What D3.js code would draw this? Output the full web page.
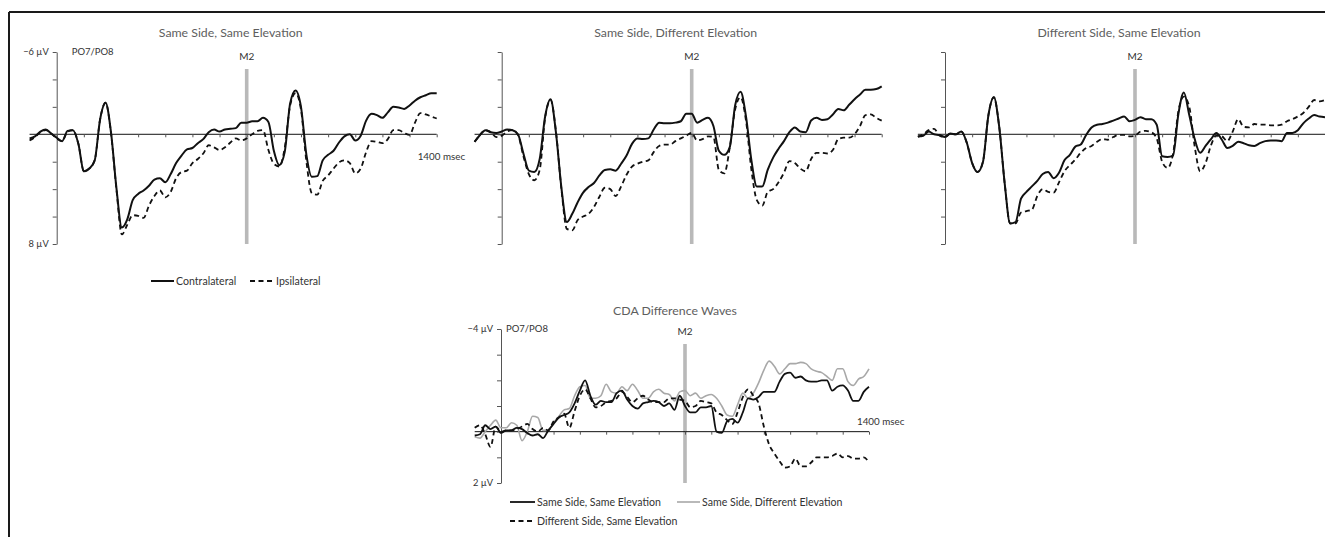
<!DOCTYPE html>
<html>
<head>
<meta charset="utf-8">
<script src="https://cdn.jsdelivr.net/npm/d3@7"></script>
<style>
  html, body { margin: 0; padding: 0; background: #fff; }
  svg { display: block; }
  text { font-family: Lato, "Open Sans", sans-serif; }
</style>
</head>
<body>
<script>
// ---------------- DATA ----------------
const times = [-100,-80,-60,-40,-20,0,20,40,60,80,100,120,140,160,180,200,220,240,260,280,
  300,320,340,360,380,400,420,440,460,480,500,520,540,560,580,600,620,640,660,680,
  700,720,740,760,780,800,820,840,860,880,900,920,940,960,980,1000,1020,1040,1060,1080,
  1100,1120,1140,1160,1180,1200,1220,1240,1260,1280,1300,1320,1340,1360,1380,1400];

const panelTitles = ["Same Side, Same Elevation", "Same Side, Different Elevation", "Different Side, Same Elevation"];
const waveLegend = ["Contralateral", "Ipsilateral"];
const cdaTitle = "CDA Difference Waves";
const cdaLegend = ["Same Side, Same Elevation", "Same Side, Different Elevation", "Different Side, Same Elevation"];
const electrodeLabel = "PO7/PO8";
const markerLabel = "M2";
const markerTime = 700;
const endLabel = "1400 msec";

const topYTicks = [-6,-4,-2,0,2,4,6,8];
const topYLabels = ["\u22126 \u00b5V", "8 \u00b5V"];
const cdaYTicks = [-4,-3,-2,-1,0,1,2];
const cdaYLabels = ["\u22124 \u00b5V", "2 \u00b5V"];
const xTicks = [0,100,200,300,400,500,600,700,800,900,1000,1100,1200,1300,1400];

// Panel 1: Same Side, Same Elevation (µV, negative up)
const ssseContra = [0.3,0.15,-0.2,-0.35,-0.05, 0.25,0.5,-0.25,-0.3,0.7,
  2.7,2.5,1.9,-1.1,-2.3, -0.15,3.9,6.8,6.2,4.8,
  4.35,4.1,3.75,3.3,3.2, 3.5,2.9,2.1,1.55,1.1,
  1.0,0.65,0.35,-0.15,-0.35, -0.2,-0.35,-0.4,-0.45,-0.85,
  -0.85,-0.95,-0.95,-1.2,-0.9, 1.2,2.25,1.3,-2.25,-3.2,
  -2.0,1.5,3.1,3.05,1.9, 1.5,1.2,0.6,0.15,0.0,
  0.45,0.1,-1.0,-1.5,-1.4, -1.2,-1.6,-2.0,-1.95,-1.85,
  -2.1,-2.45,-2.7,-2.85,-3.0, -3.0];
const ssseIpsi = [0.45,0.2,-0.15,-0.3,-0.05, 0.3,0.5,-0.2,-0.3,0.7,
  2.7,2.5,1.9,-1.1,-2.3, -0.1,4.0,7.3,6.6,5.9,
  5.95,6.1,5.2,4.5,4.1, 4.6,4.2,3.2,2.75,2.65,
  2.1,1.8,1.4,0.8,0.95, 1.15,0.95,0.6,0.3,0.45,
  0.3,0.0,-0.25,-0.3,1.15, 2.15,2.35,1.0,-2.1,-3.0,
  -1.8,2.0,4.3,4.4,3.4, 3.0,2.5,2.05,1.9,2.1,
  2.85,2.5,1.3,0.5,0.55, 0.65,0.35,-0.3,-0.3,-0.1,
  0.05,-0.85,-1.55,-1.45,-1.3, -1.15];

// Panel 2: Same Side, Different Elevation
const ssdeContra = [0.55,0.05,-0.3,-0.15,-0.1, -0.2,-0.35,-0.3,0.0,1.4,
  2.65,2.75,1.8,-1.3,-2.55, -0.1,3.9,6.4,5.8,4.95,
  4.25,3.85,3.55,3.0,2.6, 2.55,2.65,2.15,1.55,0.7,
  0.3,0.35,0.3,-0.35,-0.85, -0.8,-0.8,-0.85,-0.95,-1.5,
  -1.5,-0.85,-1.05,-1.2,-0.6, 1.2,1.5,0.95,-2.1,-3.1,
  -1.3,1.9,3.8,3.8,2.6, 1.7,1.05,0.5,-0.15,-0.5,
  -0.2,-0.15,-1.0,-1.2,-1.05, -1.1,-1.45,-1.85,-1.75,-2.15,
  -2.55,-2.9,-3.25,-3.25,-3.3, -3.5];
const ssdeIpsi = [0.55,0.05,-0.3,-0.15,0.2, 0.1,-0.2,-0.3,0.05,1.6,
  2.9,3.35,2.6,-1.2,-2.5, -0.2,4.0,6.9,7.0,6.25,
  6.0,5.8,5.3,4.55,3.9, 4.0,4.5,3.8,2.95,2.35,
  2.15,2.0,1.9,1.3,0.85, 0.75,0.75,0.5,0.3,0.1,
  -0.1,0.45,0.35,0.15,0.2, 2.6,2.85,1.0,-1.8,-2.7,
  -1.0,2.6,4.8,5.2,4.2, 4.0,3.5,2.8,1.95,2.1,
  2.5,2.7,1.8,1.35,1.35, 1.4,1.15,0.35,0.25,0.25,
  0.0,-0.6,-1.4,-1.45,-1.2, -1.0];

// Panel 3: Different Side, Same Elevation
const dsseContra = [0.15,0.1,-0.2,0.0,0.05, 0.2,-0.05,0.0,-0.2,0.6,
  2.1,2.75,2.0,-1.4,-2.7, -0.5,3.6,6.5,6.4,4.7,
  4.2,3.8,3.4,2.9,2.75, 3.2,2.8,1.9,1.5,0.9,
  0.75,0.05,-0.5,-0.7,-0.75, -0.85,-1.0,-1.15,-1.3,-0.95,
  -1.05,-1.25,-1.1,-1.1,-0.7, 1.6,1.65,1.55,-1.5,-3.05,
  -1.4,0.35,1.35,0.85,0.35, -0.1,0.4,1.0,0.85,0.55,
  0.65,0.8,0.85,0.65,0.5, 0.45,0.45,0.5,-0.1,-0.1,
  -0.3,-0.8,-1.15,-1.4,-1.3, -1.25];
const dsseIpsi = [0.2,0.0,-0.3,-0.4,0.1, 0.2,-0.05,0.0,-0.2,0.6,
  2.1,2.75,2.0,-1.4,-2.7, -0.5,3.6,6.5,6.5,5.7,
  5.6,5.5,4.5,4.0,4.2, 4.25,3.5,2.7,2.25,1.85,
  1.35,1.0,0.85,0.55,0.35, 0.4,0.2,0.05,0.05,0.15,
  0.1,-0.2,-0.25,-0.15,0.3, 2.0,2.45,1.45,-1.7,-2.75,
  -2.0,0.9,2.7,2.1,0.8, 0.1,0.15,0.5,-0.2,-1.1,
  -0.55,-0.5,-0.75,-0.7,-0.7, -0.65,-0.65,-0.7,-0.95,-1.1,
  -1.3,-1.55,-2.0,-2.5,-2.4, -2.5];

// CDA difference waves
const cdaSSSE = [0.15,0.1,-0.25,-0.1,-0.2, 0.05,-0.05,-0.05,-0.15,-0.1,
  0.05,0.15,0.1,0.25,-0.05, -0.3,-0.55,-0.65,-0.75,-1.1,
  -1.6,-2.0,-1.4,-1.05,-1.2, -1.15,-1.15,-1.5,-1.6,-1.25,
  -1.0,-0.9,-1.1,-1.15,-1.2, -1.15,-1.0,-1.1,-0.85,-1.4,
  -1.0,-0.75,-0.75,-0.95,-0.95, -1.0,0.0,0.05,-0.4,-0.5,
  -0.35,-0.75,-1.3,-1.25,-1.35, -1.55,-1.55,-1.55,-1.95,-2.25,
  -2.3,-2.1,-2.15,-2.0,-1.95, -1.95,-2.0,-2.0,-1.6,-1.75,
  -1.8,-1.6,-1.2,-1.2,-1.55, -1.75];
const cdaSSDE = [0.2,0.25,0.0,-0.25,-0.45, -0.15,-0.15,-0.35,-0.25,0.35,
  0.0,-0.6,-0.55,-0.05,-0.05, -0.35,-0.6,-0.85,-0.9,-1.4,
  -1.75,-1.8,-1.3,-1.3,-1.4, -1.85,-1.55,-1.5,-1.75,-1.6,
  -1.85,-1.6,-1.3,-1.3,-1.55, -1.65,-1.5,-1.45,-1.2,-1.55,
  -1.6,-1.4,-1.5,-1.3,-1.4, -1.45,-1.3,-1.0,-0.65,-0.6,
  -1.05,-1.5,-1.3,-1.5,-1.9, -2.4,-2.75,-2.55,-2.25,-2.45,
  -2.65,-2.65,-2.7,-2.65,-2.45, -2.35,-2.3,-2.15,-2.0,-2.45,
  -2.45,-1.95,-1.8,-2.05,-2.15, -2.45];
const cdaDSSE = [-0.15,-0.25,0.1,0.6,-0.2, 0.0,-0.05,-0.05,-0.1,-0.2,
  -0.3,-0.1,0.0,-0.15,-0.05, -0.4,-0.55,-0.7,-0.15,-0.8,
  -1.4,-1.65,-1.3,-0.95,-1.0, -1.15,-1.2,-1.3,-1.55,-1.35,
  -1.15,-1.3,-1.4,-1.25,-1.15, -1.15,-1.15,-1.3,-1.3,-1.25,
  -1.2,-0.95,-1.0,-1.2,-1.15, -1.1,-0.75,-0.65,-0.45,-0.3,
  -0.75,-1.35,-1.65,-1.4,-1.1, -0.2,0.5,0.85,1.15,1.4,
  1.35,1.05,1.35,1.35,1.2, 1.0,1.0,1.0,0.95,0.85,
  1.0,0.95,1.05,1.05,1.0, 1.2];

const topSeries = [[ssseContra, ssseIpsi], [ssdeContra, ssdeIpsi], [dsseContra, dsseIpsi]];
const cdaSeries = [cdaSSSE, cdaSSDE, cdaDSSE];

// ---------------- DRAWING ----------------
const W = 1325, H = 537;
const svg = d3.select("body").append("svg").attr("width", W).attr("height", H);
svg.append("rect").attr("width", W).attr("height", H).attr("fill", "#fff");

// frame
svg.append("line").attr("x1", 9).attr("x2", W).attr("y1", 12).attr("y2", 12).attr("stroke", "#1a1a1a").attr("stroke-width", 2);
svg.append("line").attr("x1", 9).attr("x2", 9).attr("y1", 12).attr("y2", H).attr("stroke", "#1a1a1a").attr("stroke-width", 2);

const axisColor = "#555";
const labelColor = "#333";
const titleColor = "#5e5e5e";
const grayLine = "#a8a8a8";

function drawPanel(opts) {
  const { x, y, yTicks, series, styles, markerTop, yLabels, showLabels, endLabelAbove, title, titleY, electrodeDx } = opts;
  const g = svg.append("g");

  // marker bar
  g.append("rect")
    .attr("x", x(markerTime) - 1.8).attr("width", 3.6)
    .attr("y", markerTop).attr("height", y(yTicks[yTicks.length - 1]) - markerTop)
    .attr("fill", "#b9b9b9");
  g.append("text").attr("x", x(markerTime)).attr("y", markerTop - 9)
    .attr("text-anchor", "middle").attr("font-size", 10).attr("fill", labelColor).text(markerLabel);

  // zero line
  g.append("line").attr("x1", x(times[0])).attr("x2", x(times[times.length - 1]))
    .attr("y1", y(0)).attr("y2", y(0)).attr("stroke", "#111").attr("stroke-width", 1);
  const xa = g.append("g").attr("transform", `translate(0,${y(0)})`)
    .call(d3.axisBottom(x).tickValues(xTicks).tickSize(3).tickSizeOuter(0).tickFormat(""));
  xa.select(".domain").remove();
  xa.selectAll("line").attr("stroke", axisColor);

  // y axis
  const ya = g.append("g").attr("transform", `translate(${x(0)},0)`)
    .call(d3.axisLeft(y).tickValues(yTicks).tickSize(4).tickSizeOuter(0).tickFormat(""));
  ya.select(".domain").attr("stroke", axisColor);
  ya.selectAll("line").attr("stroke", axisColor);

  // title
  g.append("text").attr("x", x(0) + 174).attr("y", titleY).attr("text-anchor", "middle")
    .attr("font-size", 12.3).attr("fill", titleColor).text(title);

  if (showLabels) {
    g.append("text").attr("x", x(0) - 8).attr("y", y(yTicks[0]) + 3).attr("text-anchor", "end")
      .attr("font-size", 9.3).attr("fill", labelColor).text(yLabels[0]);
    g.append("text").attr("x", x(0) - 8).attr("y", y(yTicks[yTicks.length - 1]) + 3).attr("text-anchor", "end")
      .attr("font-size", 9.3).attr("fill", labelColor).text(yLabels[1]);
    g.append("text").attr("x", x(0) + electrodeDx).attr("y", y(yTicks[0]) + 3)
      .attr("font-size", 9.5).attr("fill", labelColor).text(electrodeLabel);
    g.append("text").attr("x", x(1400) - (endLabelAbove ? 12 : 19)).attr("y", endLabelAbove ? y(0) - 7 : y(0) + 26)
      .attr("font-size", 9.8).attr("fill", labelColor).text(endLabel);
  }

  const line = d3.line().x((d, i) => x(times[i])).y(d => y(d)).curve(d3.curveMonotoneX);
  series.forEach((s, k) => {
    g.append("path").datum(s).attr("d", line).attr("fill", "none")
      .attr("stroke", styles[k].color).attr("stroke-width", styles[k].width)
      .attr("stroke-dasharray", styles[k].dash || null)
      .attr("stroke-linejoin", "round");
  });
}

const topX0 = [56.7, 501.7, 945];
const topStyles = [{ color: "#111", width: 2 }, { color: "#111", width: 1.8, dash: "5,3.5" }];
// draw ipsilateral first so solid sits on top
topX0.forEach((x0, i) => {
  const x = d3.scaleLinear().domain([0, 1400]).range([x0, x0 + 380]);
  const y = d3.scaleLinear().domain([-6, 8]).range([52, 244]);
  drawPanel({
    x, y, yTicks: topYTicks,
    series: [topSeries[i][1], topSeries[i][0]],
    styles: [topStyles[1], topStyles[0]],
    markerTop: 69, yLabels: topYLabels, showLabels: i === 0, endLabelAbove: false,
    title: panelTitles[i], titleY: 37, electrodeDx: 15
  });
});

// legend for top row
const lg = svg.append("g");
lg.append("line").attr("x1", 151).attr("x2", 174).attr("y1", 281).attr("y2", 281).attr("stroke", "#111").attr("stroke-width", 2);
lg.append("text").attr("x", 176).attr("y", 284.5).attr("font-size", 10.6).attr("fill", labelColor).text(waveLegend[0]);
lg.append("line").attr("x1", 250).attr("x2", 275).attr("y1", 281).attr("y2", 281).attr("stroke", "#111").attr("stroke-width", 1.8).attr("stroke-dasharray", "5,3.5");
lg.append("text").attr("x", 276).attr("y", 284.5).attr("font-size", 10.6).attr("fill", labelColor).text(waveLegend[1]);

// CDA panel
{
  const x = d3.scaleLinear().domain([0, 1400]).range([501, 869]);
  const y = d3.scaleLinear().domain([-4, 2]).range([329, 483]);
  const cdaStyles = [
    { color: "#111", width: 1.8 },
    { color: grayLine, width: 1.6 },
    { color: "#111", width: 1.8, dash: "5,3.5" }
  ];
  drawPanel({
    x, y, yTicks: cdaYTicks,
    series: [cdaSeries[1], cdaSeries[2], cdaSeries[0]],
    styles: [cdaStyles[1], cdaStyles[2], cdaStyles[0]],
    markerTop: 344, yLabels: cdaYLabels, showLabels: true, endLabelAbove: true,
    title: cdaTitle, titleY: 315, electrodeDx: 5
  });

  const lg2 = svg.append("g");
  const rows = [
    { x1: 510, x2: 535, y: 502, tx: 537, style: cdaStyles[0], label: cdaLegend[0] },
    { x1: 677, x2: 700, y: 502, tx: 702, style: cdaStyles[1], label: cdaLegend[1] },
    { x1: 510, x2: 535, y: 521, tx: 537, style: cdaStyles[2], label: cdaLegend[2] }
  ];
  rows.forEach(r => {
    lg2.append("line").attr("x1", r.x1).attr("x2", r.x2).attr("y1", r.y).attr("y2", r.y)
      .attr("stroke", r.style.color).attr("stroke-width", r.style.width)
      .attr("stroke-dasharray", r.style.dash || null);
    lg2.append("text").attr("x", r.tx).attr("y", r.y + 3.5).attr("font-size", 10.6)
      .attr("fill", labelColor).text(r.label);
  });
}
</script>
</body>
</html>
